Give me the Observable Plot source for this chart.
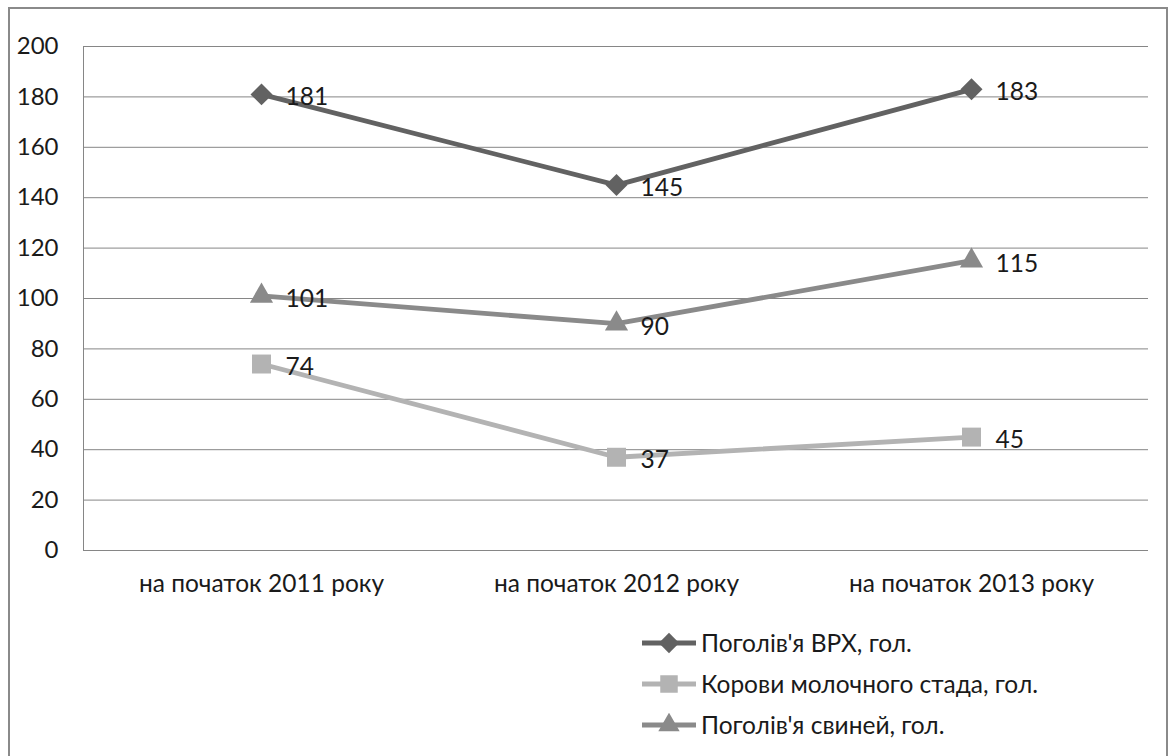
<!DOCTYPE html>
<html>
<head>
<meta charset="utf-8">
<script src="https://cdn.jsdelivr.net/npm/d3@7"></script>
<script src="https://cdn.jsdelivr.net/npm/@observablehq/plot@0.6"></script>
<style>
  html, body { margin: 0; padding: 0; background: #fff; }
  #frame { position: absolute; left: 8px; top: 7px; width: 1160px; height: 760px; border: 2px solid #8a8a8a; box-sizing: border-box; }
  #chart { position: absolute; left: 0; top: 0; }
  #legend { position: absolute; left: 641px; top: 622px; font-family: Lato, sans-serif; font-size: 24.5px; color: #1a1a1a; }
  .row { display: flex; align-items: center; height: 41px; }
  .row svg { margin-right: 4px; }
</style>
</head>
<body>
<div id="frame"></div>
<div id="chart"></div>
<div id="legend"></div>
<script>
const categories = ["на початок 2011 року", "на початок 2012 року", "на початок 2013 року"];
const seriesNames = ["Поголів'я ВРХ, гол.", "Корови молочного стада, гол.", "Поголів'я свиней, гол."];
const cattle = [181, 145, 183];
const cows = [74, 37, 45];
const pigs = [101, 90, 115];
const yTicks = [0, 20, 40, 60, 80, 100, 120, 140, 160, 180, 200];
const colors = ["#626262", "#b3b3b3", "#8a8a8a"];
const symbols = ["diamond2", "square", "triangle"];
const sizes = [9.9, 10.7, 8.6];

const seriesValues = [cattle, cows, pigs];
const data = [];
seriesValues.forEach((vals, s) => vals.forEach((v, i) => data.push({series: seriesNames[s], s, cat: categories[i], value: v})));

const marks = [
  Plot.ruleY(yTicks, {stroke: "#868686", strokeWidth: 1}),
  Plot.frame({anchor: "left", stroke: "#868686"}),
  Plot.axisY(yTicks, {tickSize: 0, tickPadding: 25, fontSize: 24, fill: "#1a1a1a"}),
  Plot.axisX({tickSize: 0, tickPadding: 24, fontSize: 24.5, fill: "#1a1a1a"})
];
[0, 1, 2].forEach(s => {
  const d = data.filter(r => r.s === s);
  marks.push(Plot.line(d, {x: "cat", y: "value", stroke: colors[s], strokeWidth: 4.8}));
  marks.push(Plot.dot(d, {x: "cat", y: "value", symbol: () => symbols[s], fill: colors[s], stroke: "none", r: sizes[s]}));
  marks.push(Plot.text(d, {x: "cat", y: "value", text: r => String(r.value), textAnchor: "start", dx: 24, dy: 3, fontSize: 24.5, fill: "#1a1a1a"}));
});

const chart = Plot.plot({
  width: 1174,
  height: 620,
  marginLeft: 83,
  marginRight: 26,
  marginTop: 46,
  marginBottom: 70,
  style: {fontFamily: "Lato, sans-serif", background: "transparent"},
  x: {type: "point", domain: categories, padding: 0.5, label: null},
  y: {domain: [0, 200], label: null},
  symbol: {domain: symbols, range: symbols},
  marks
});
document.getElementById("chart").appendChild(chart);

const legend = document.getElementById("legend");
seriesNames.forEach((name, s) => {
  const row = document.createElement("div");
  row.className = "row";
  const sym = d3.symbol(d3["symbol" + ["Diamond2", "Square", "Triangle"][s]], Math.PI * sizes[s] * sizes[s] * 0.85)();
  row.innerHTML = `<svg width="56" height="24" viewBox="-28 -12 56 24"><line x1="-27" x2="27" y1="0" y2="0" stroke="${colors[s]}" stroke-width="4.8"/><path d="${sym}" fill="${colors[s]}"/></svg><span>${name}</span>`;
  legend.appendChild(row);
});
</script>
</body>
</html>
